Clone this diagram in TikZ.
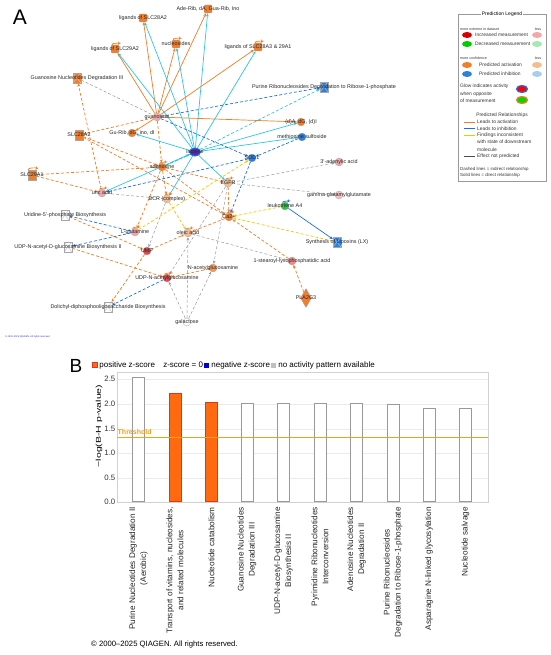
\documentclass[tikz,border=0pt]{standalone}
\usepackage{fontspec}
\setmainfont{Liberation Sans}
\usepackage{tikz}
\usepackage{xcolor}
\usetikzlibrary{shapes.geometric,arrows.meta,positioning,backgrounds}

\definecolor{actorange}{HTML}{F47B20}
\definecolor{inhblue}{HTML}{1C6FE3}
\definecolor{inhcyan}{HTML}{2EC4E8}
\definecolor{incyellow}{HTML}{F7C600}
\definecolor{nopred}{HTML}{9A9A9A}
\definecolor{nodeorange}{HTML}{EF7E2E}
\definecolor{nodelorange}{HTML}{F4BC92}
\definecolor{nodepink}{HTML}{F0A8A8}
\definecolor{nodered}{HTML}{E2474A}
\definecolor{nodeblue}{HTML}{2E80DA}
\definecolor{nodelblue}{HTML}{A8CCF2}
\definecolor{nodegreen}{HTML}{2EC44A}
\definecolor{nodelgreen}{HTML}{A6E8B2}
\definecolor{nodepurple}{HTML}{5A2AA8}
\definecolor{barorange}{HTML}{FF6A10}
\definecolor{barred}{HTML}{E8321A}
\definecolor{threshcol}{HTML}{F0A020}
\definecolor{qiablue}{HTML}{2A2AD8}

\newcommand{\netfont}{\fontsize{5.4}{6}\selectfont}
\newcommand{\legfont}{\fontsize{4.9}{7.4}\selectfont}
\newcommand{\tinyfont}{\fontsize{3.6}{4}\selectfont}
\newcommand{\chartfont}{\fontsize{8.2}{11}\selectfont}

\tikzset{
  actline/.style={draw=actorange, line width=0.7pt},
  inhline/.style={draw=inhblue, line width=0.7pt},
  cyanline/.style={draw=inhcyan, line width=0.7pt},
  yelline/.style={draw=incyellow, line width=0.7pt},
  greyline/.style={draw=nopred, line width=0.5pt},
  indirect/.style={dash pattern=on 3pt off 2pt},
  selfloop/.style={loop above, out=125, in=55},
  every loop/.style={min distance=8pt, looseness=8},
  hourglass/.style={path picture={\draw[#1, line width=0.4pt]
      (path picture bounding box.north west) -- (path picture bounding box.south east)
      (path picture bounding box.south west) -- (path picture bounding box.north east);}},
  every label/.style={draw=none, fill=none, rectangle, minimum size=0pt, inner sep=0pt,
      font=\netfont, text=black!85},
}

\begin{document}
\begin{tikzpicture}[x=1pt, y=-1pt, >={Stealth[length=3.4pt, width=2.8pt]}]
\useasboundingbox (0,0) rectangle (550,655);

% ---------- panel A: network
\node[font=\fontsize{21}{21}\selectfont] (label-A) at (20,17) {A};

\begin{scope}[every node/.style={circle, minimum size=8pt, inner sep=0pt, draw=black!35, line width=0.3pt}]
\node[fill=nodepink, label={center:guanosine}] (guanosine) at (157,117) {};
\node[ellipse, minimum width=11pt, minimum height=8pt, fill=nodepurple, draw=inhblue, line width=1pt, label={center:inosine}] (inosine) at (195,152) {};
\node[fill=nodeorange, label={center:adenosine}] (adenosine) at (162,167) {};
\node[fill=nodeorange, label={center:Gu-Rib, dG, ino, dI}] (gurib) at (132,133) {};
\node[fill=nodeorange, label={center:(d)A, dG, (d)I}] (dadgdi) at (301,122) {};
\node[fill=nodeblue, label={center:methionine sulfoxide}] (metsulf) at (302,137) {};
\node[fill=nodeblue, label={center:SOD1}] (sod1) at (252,158) {};
\node[fill=nodepink, label={center:3'-adenylic acid}] (adenylic) at (339,162) {};
\node[fill=nodepink!70!white, label={center:gamma-glutamylglutamate}] (gammagg) at (339,195) {};
\node[fill=nodepink, label={center:uric acid}] (uricacid) at (102,193) {};
\node[fill=nodelorange, label={center:BCR (complex)}] (bcr) at (167,199) {};
\node[fill=nodelorange, label={center:EGFR}] (egfr) at (228,183) {};
\node[fill=nodeorange, label={center:Ca2+}] (ca2) at (229,217) {};
\node[fill=nodegreen, label={center:leukotriene A4}] (leuka4) at (285,206) {};
\node[fill=nodepink, label={center:L-glutamine}] (lglut) at (135,232) {};
\node[fill=nodelorange, label={center:oleic acid}] (oleic) at (188,233) {};
\node[fill=nodered, label={center:UMP}] (ump) at (147,251) {};
\node[fill=nodered, label={center:UDP-N-acetylglucosamine}] (udpnag) at (167,278) {};
\node[fill=nodeorange!80!white, label={center:N-acetylglucosamine}] (nag) at (213,268) {};
\node[fill=nodepink!80!red, label={center:1-stearoyl-lysophosphatidic acid}] (stearoyl) at (292,261) {};
\node[fill=white, label={center:galactose}] (galactose) at (187,322) {};
\end{scope}
\begin{scope}[every node/.style={rectangle, rounded corners=1pt, minimum width=8pt, minimum height=8pt, inner sep=0pt, fill=nodeorange, draw=black!35, line width=0.3pt}]
\node[label={center:ligands of SLC28A2}] (lig-28A2) at (143,18) {};
\node[label={center:ligands of SLC29A2}] (lig-29A2) at (115,49) {};
\node[label={center:nucleosides}] (nucleosides) at (176,44) {};
\node[label={center:Ade-Rib, dA, Gua-Rib, Ino}] (aderib) at (208,9) {};
\node[label={center:ligands of SLC28A3 \& 29A1}] (lig-28A3) at (258,47) {};
\end{scope}
\begin{scope}[every node/.style={rectangle, minimum width=8pt, minimum height=10pt, inner sep=0pt, fill=nodeorange, draw=black!35, line width=0.3pt}]
\node[label={center:SLC28A2}] (slc28a2) at (79,135) {};
\node[label={center:SLC29A1}] (slc29a1) at (32,175) {};
\end{scope}
\begin{scope}[every node/.style={rectangle, minimum width=8pt, minimum height=10pt, inner sep=0pt, draw=black!35, line width=0.3pt}]
\node[fill=nodeorange, hourglass=white!60!nodeorange, label={center:Guanosine Nucleotides Degradation III}] (gnd3) at (77,78) {};
\node[fill=nodeblue, hourglass=white!60!nodeblue, label={center:Purine Ribonucleosides Degradation to Ribose-1-phosphate}] (prdr1p) at (324,87) {};
\node[fill=nodeblue, hourglass=white!60!nodeblue, label={center:Synthesis of Lipoxins (LX)}] (lx) at (337,242) {};
\node[fill=white, hourglass=black!25, label={center:Uridine-5'-phosphate Biosynthesis}] (uridine5p) at (65,215) {};
\node[fill=white, hourglass=black!25, label={center:UDP-N-acetyl-D-glucosamine Biosynthesis II}] (udpnagbio) at (68,247) {};
\node[fill=white, hourglass=black!25, label={center:Dolichyl-diphosphooligosaccharide Biosynthesis}] (dolichyl) at (108,307) {};
\end{scope}
\begin{scope}[every node/.style={diamond, minimum width=11pt, minimum height=19pt, inner sep=0pt, fill=nodeorange, draw=black!35, line width=0.3pt}]
\node[label={center:PLA2G3}] (pla2g3) at (306,298) {};
\end{scope}

\begin{scope}[on background layer]
\path [->] (guanosine) edge [actline] (lig-28A2);
\path [->] (guanosine) edge [actline] (lig-29A2);
\path [->] (guanosine) edge [actline] (nucleosides);
\path [->] (guanosine) edge [actline] (aderib);
\path [->] (guanosine) edge [actline] (lig-28A3);
\path [->] (guanosine) edge [actline] (dadgdi);
\path [->] (guanosine) edge [actline] (gurib);
\path [->] (inosine) edge [cyanline] (lig-28A2);
\path [->] (inosine) edge [cyanline] (lig-29A2);
\path [->] (inosine) edge [cyanline] (nucleosides);
\path [->] (inosine) edge [cyanline] (aderib);
\path [->] (inosine) edge [cyanline] (lig-28A3);
\path [->] (inosine) edge [cyanline] (dadgdi);
\path [->] (inosine) edge [cyanline] (gurib);
\path [->] (inosine) edge [cyanline] (metsulf);
\path [->] (inosine) edge [cyanline, indirect] (prdr1p);
\path [->] (inosine) edge [cyanline] (uricacid);
\path [->] (inosine) edge [cyanline] (bcr);
\path [->] (inosine) edge [cyanline] (egfr);
\path [->] (adenosine) edge [cyanline, indirect, line width=1.2pt] (inosine);
\path [-] (gnd3) edge [greyline, indirect] (guanosine);
\path [->] (guanosine) edge [actline, indirect] (slc28a2);
\path [->] (guanosine) edge [actline, indirect] (adenosine);
\path [->] (slc28a2) edge [actline, indirect] (adenosine);
\path [->] (slc28a2) edge [actline, indirect] (ca2);
\path [->] (slc29a1) edge [actline, indirect] (adenosine);
\path [->] (slc29a1) edge [actline, indirect] (uricacid);
\path [->] (uricacid) edge [actline, indirect] (gnd3);
\path [->] (adenosine) edge [actline, indirect] (egfr);
\path [->] (adenosine) edge [actline, indirect] (ca2);
\path [->] (adenosine) edge [actline, indirect] (lglut);
\path [->] (adenosine) edge [actline, indirect] (bcr);
\path [->] (egfr) edge [actline, indirect] (ca2);
\path [->] (stearoyl) edge [actline, indirect] (ca2);
\path [->] (pla2g3) edge [actline, indirect] (stearoyl);
\path [->] (ca2) edge [actline, indirect] (oleic);
\path [->] (ump) edge [actline, indirect] (oleic);
\path [->] (uridine5p) edge [actline, indirect] (ump);
\path [->] (ump) edge [actline, indirect] (dolichyl);
\path [->] (udpnagbio) edge [actline, indirect] (udpnag);
\path [->] (nag) edge [actline, indirect] (udpnag);
\path [->] (guanosine) edge [inhline, indirect] (prdr1p);
\path [->] (guanosine) edge [inhline, indirect] (sod1);
\path [->] (metsulf) edge [inhline, indirect] (sod1);
\path [->] (sod1) edge [inhline, indirect] (uricacid);
\path [->] (sod1) edge [inhline, indirect] (ca2);
\path [->] (lglut) edge [inhline, indirect] (uridine5p);
\path [->] (lglut) edge [inhline, indirect] (udpnagbio);
\path [->] (udpnag) edge [inhline, indirect] (dolichyl);
\path [->] (leuka4) edge [inhline] (lx);
\path [->] (leuka4) edge [yelline, indirect] (ca2);
\path [->] (lx) edge [yelline, indirect] (ca2);
\path [->] (lglut) edge [yelline, indirect] (sod1);
\path [->] (bcr) edge [yelline, indirect] (oleic);
\path [->] (egfr) edge [greyline, indirect] (adenylic);
\path [->] (egfr) edge [greyline, indirect] (gammagg);
\path [->] (egfr) edge [greyline, indirect] (nag);
\path [->] (egfr) edge [greyline, indirect] (udpnag);
\path [-] (oleic) edge [greyline, indirect] (stearoyl);
\path [->] (bcr) edge [greyline, indirect] (ump);
\path [-] (uricacid) edge [greyline, indirect] (bcr);
\path [->] (galactose) edge [greyline, indirect] (oleic);
\path [->] (galactose) edge [greyline, indirect] (udpnag);
\path [->] (galactose) edge [greyline, indirect] (nag);
\path [->] (lig-29A2) edge [actline, selfloop] (lig-29A2);
\path [->] (nucleosides) edge [actline, selfloop] (nucleosides);
\path [->] (lig-28A3) edge [actline, selfloop] (lig-28A3);
\path [->] (adenosine) edge [actline, selfloop] (adenosine);
\path [->] (slc29a1) edge [actline, selfloop] (slc29a1);
\path [->] (uricacid) edge [actline, selfloop] (uricacid);
\path [->] (bcr) edge [actline, selfloop] (bcr);
\path [->] (lglut) edge [actline, selfloop] (lglut);
\path [->] (oleic) edge [actline, selfloop] (oleic);
\path [->] (egfr) edge [actline, selfloop] (egfr);
\path [->] (ca2) edge [actline, selfloop] (ca2);
\path [->] (udpnag) edge [actline, selfloop] (udpnag);
\path [->] (leuka4) edge [inhline, selfloop] (leuka4);
\end{scope}

% legend of panel A
\node[draw=black!40, line width=0.4pt, minimum width=88pt, minimum height=167pt, anchor=north west] (legend-box) at (458,14) {};
\node[fill=white, inner sep=1pt, font=\fontsize{5}{6}\selectfont] (legend-title) at (502,14) {Prediction Legend};
\begin{scope}[every node/.style={inner sep=0pt, font=\legfont, text=black!80}]
\node[anchor=west, font=\tinyfont] (leg-extreme) at (460,29) {more extreme in dataset};
\node[font=\tinyfont] (leg-less-1) at (538,29) {less};
\node[ellipse, minimum width=10pt, minimum height=6pt, fill=red!85!black] (leg-inc) at (467,35) {};
\node[anchor=west] (leg-inc-text) at (475,35) {Increased measurement};
\node[ellipse, minimum width=10pt, minimum height=6pt, fill=nodepink] (leg-inc-less) at (537,35) {};
\node[ellipse, minimum width=10pt, minimum height=6pt, fill=green!80!black] (leg-dec) at (467,44) {};
\node[anchor=west] (leg-dec-text) at (475,44) {Decreased measurement};
\node[ellipse, minimum width=10pt, minimum height=6pt, fill=nodelgreen] (leg-dec-less) at (537,44) {};
\node[anchor=west, font=\tinyfont] (leg-conf) at (460,58) {more confidence};
\node[font=\tinyfont] (leg-less-2) at (538,58) {less};
\node[ellipse, minimum width=10pt, minimum height=6pt, fill=nodeorange] (leg-act) at (467,65) {};
\node[anchor=west] (leg-act-text) at (479,65) {Predicted activation};
\node[ellipse, minimum width=10pt, minimum height=6pt, fill=nodelorange] (leg-act-less) at (537,65) {};
\node[ellipse, minimum width=10pt, minimum height=6pt, fill=nodeblue] (leg-inh) at (467,74) {};
\node[anchor=west] (leg-inh-text) at (479,74) {Predicted inhibition};
\node[ellipse, minimum width=10pt, minimum height=6pt, fill=nodelblue] (leg-inh-less) at (537,74) {};
\node[anchor=north west, align=left] (leg-glow) at (460,84) {Glow indicates activity\\when opposite\\of measurement};
\node[ellipse, minimum width=11pt, minimum height=7pt, fill=red, draw=inhblue, line width=1.2pt] (leg-glow-red) at (522,89) {};
\node[ellipse, minimum width=11pt, minimum height=7pt, fill=green!85!black, draw=actorange, line width=1.2pt] (leg-glow-green) at (522,100) {};
\node (leg-rel) at (502,115) {Predicted Relationships};
\node[anchor=west] (leg-rel-act) at (477,122) {Leads to activation};
\node[anchor=west] (leg-rel-inh) at (477,128.5) {Leads to inhibition};
\node[anchor=north west, align=left] (leg-rel-inc) at (477,132.5) {Findings inconsistent\\with state of downstream\\molecule};
\node[anchor=west] (leg-rel-none) at (477,156) {Effect not predicted};
\node[anchor=west, font=\fontsize{4.4}{5}\selectfont] (leg-dashed) at (460,169) {Dashed lines = indirect relationship};
\node[anchor=west, font=\fontsize{4.4}{5}\selectfont] (leg-solid) at (460,175.5) {Solid lines = direct relationship};
\end{scope}
\draw[actline] (464,122) -- (475,122);
\draw[inhline] (464,128.5) -- (475,128.5);
\draw[yelline] (464,135) -- (475,135);
\draw[draw=black!70, line width=0.7pt] (464,156) -- (475,156);

\node[anchor=west, inner sep=0pt, font=\fontsize{2.4}{3}\selectfont, text=qiablue] (copyright-A) at (5,337) {© 2000-2025 QIAGEN. All rights reserved.};

% ---------- panel B: bar chart
\node[font=\fontsize{19}{19}\selectfont] (label-B) at (76,366) {B};
\begin{scope}[every node/.style={font=\fontsize{8}{9}\selectfont, inner sep=0pt}]
\node[minimum size=5pt, fill=barorange, draw=barred, line width=0.4pt] (key-pos) at (95,365) {};
\node[right=1.5pt of key-pos] (key-pos-text) {positive z-score};
\node[minimum size=5pt, fill=white, right=1pt of key-pos-text] (key-zero) {};
\node[right=1.5pt of key-zero] (key-zero-text) {z-score = 0};
\node[minimum size=5pt, fill=blue!85!black, right=1pt of key-zero-text] (key-neg) {};
\node[right=1.5pt of key-neg] (key-neg-text) {negative z-score};
\node[minimum size=5pt, fill=black!25, right=1pt of key-neg-text] (key-none) {};
\node[right=1.5pt of key-none] (key-none-text) {no activity pattern available};
\end{scope}

\draw[black!8, line width=0.4pt] (117,379) -- (488,379);
\draw[black!8, line width=0.4pt] (117,404) -- (488,404);
\draw[black!8, line width=0.4pt] (117,429) -- (488,429);
\draw[black!8, line width=0.4pt] (117,453) -- (488,453);
\draw[black!8, line width=0.4pt] (117,478) -- (488,478);
\draw[black!18, line width=0.5pt] (117,372) rectangle (488,502);

\begin{scope}[every node/.style={anchor=east, inner sep=0pt, font=\fontsize{7.8}{9}\selectfont, text=black!80}]
\node (tick-0) at (115.5,502) {0.0};
\node (tick-1) at (115.5,478) {0.5};
\node (tick-2) at (115.5,453) {1.0};
\node (tick-3) at (115.5,429) {1.5};
\node (tick-4) at (115.5,404) {2.0};
\node (tick-5) at (115.5,379) {2.5};
\end{scope}
\node[rotate=90, inner sep=0pt, font=\fontsize{7}{8}\selectfont] (y-title) at (99,426) {\scalebox{1.5}[1]{−log(B-H p-value)}};

\begin{scope}[every node/.style={anchor=south, minimum width=12pt, inner sep=0pt, draw=black!40, fill=white, line width=0.6pt}]
\node[minimum height=124pt] (bar-1) at (138.5,502) {};
\node[minimum height=107.7pt, fill=barorange, draw=barred, line width=1pt] (bar-2) at (175,502) {};
\node[minimum height=98.9pt, fill=barorange, draw=barred, line width=1pt] (bar-3) at (211.5,502) {};
\node[minimum height=98.4pt] (bar-4) at (247,502) {};
\node[minimum height=98.4pt] (bar-5) at (283.5,502) {};
\node[minimum height=98.4pt] (bar-6) at (320,502) {};
\node[minimum height=98.4pt] (bar-7) at (356.5,502) {};
\node[minimum height=97.4pt] (bar-8) at (393,502) {};
\node[minimum height=93.5pt] (bar-9) at (429,502) {};
\node[minimum height=93.5pt] (bar-10) at (465.5,502) {};
\end{scope}
\draw[draw=threshcol, line width=1.1pt] (117,437.5) -- (488,437.5);
\node[anchor=west, inner sep=0pt, font=\bfseries\fontsize{7}{8}\selectfont, text=threshcol] (thresh-text) at (117.5,432) {Threshold};

\begin{scope}[every node/.style={rotate=90, anchor=east, align=center, inner sep=0pt, font=\chartfont, text=black!85}]
\node (cat-1) at (138.5,507) {Purine Nucleotides Degradation II\\(Aerobic)};
\node (cat-2) at (175,507) {Transport of vitamins, nucleosides,\\and related molecules};
\node (cat-3) at (211.5,507) {Nucleotide catabolism};
\node (cat-4) at (247,507) {Guanosine Nucleotides\\Degradation III};
\node (cat-5) at (283.5,507) {UDP-N-acetyl-D-glucosamine\\Biosynthesis II};
\node (cat-6) at (320,507) {Pyrimidine Ribonucleotides\\Interconversion};
\node (cat-7) at (356.5,507) {Adenosine Nucleotides\\Degradation II};
\node (cat-8) at (393,507) {Purine Ribonucleosides\\Degradation to Ribose-1-phosphate};
\node (cat-9) at (429,507) {Asparagine N-linked glycosylation};
\node (cat-10) at (465.5,507) {Nucleotide salvage};
\end{scope}

\node[anchor=west, inner sep=0pt, font=\fontsize{7.7}{9}\selectfont] (copyright-B) at (91,645) {© 2000–2025 QIAGEN. All rights reserved.};
\end{tikzpicture}
\end{document}
